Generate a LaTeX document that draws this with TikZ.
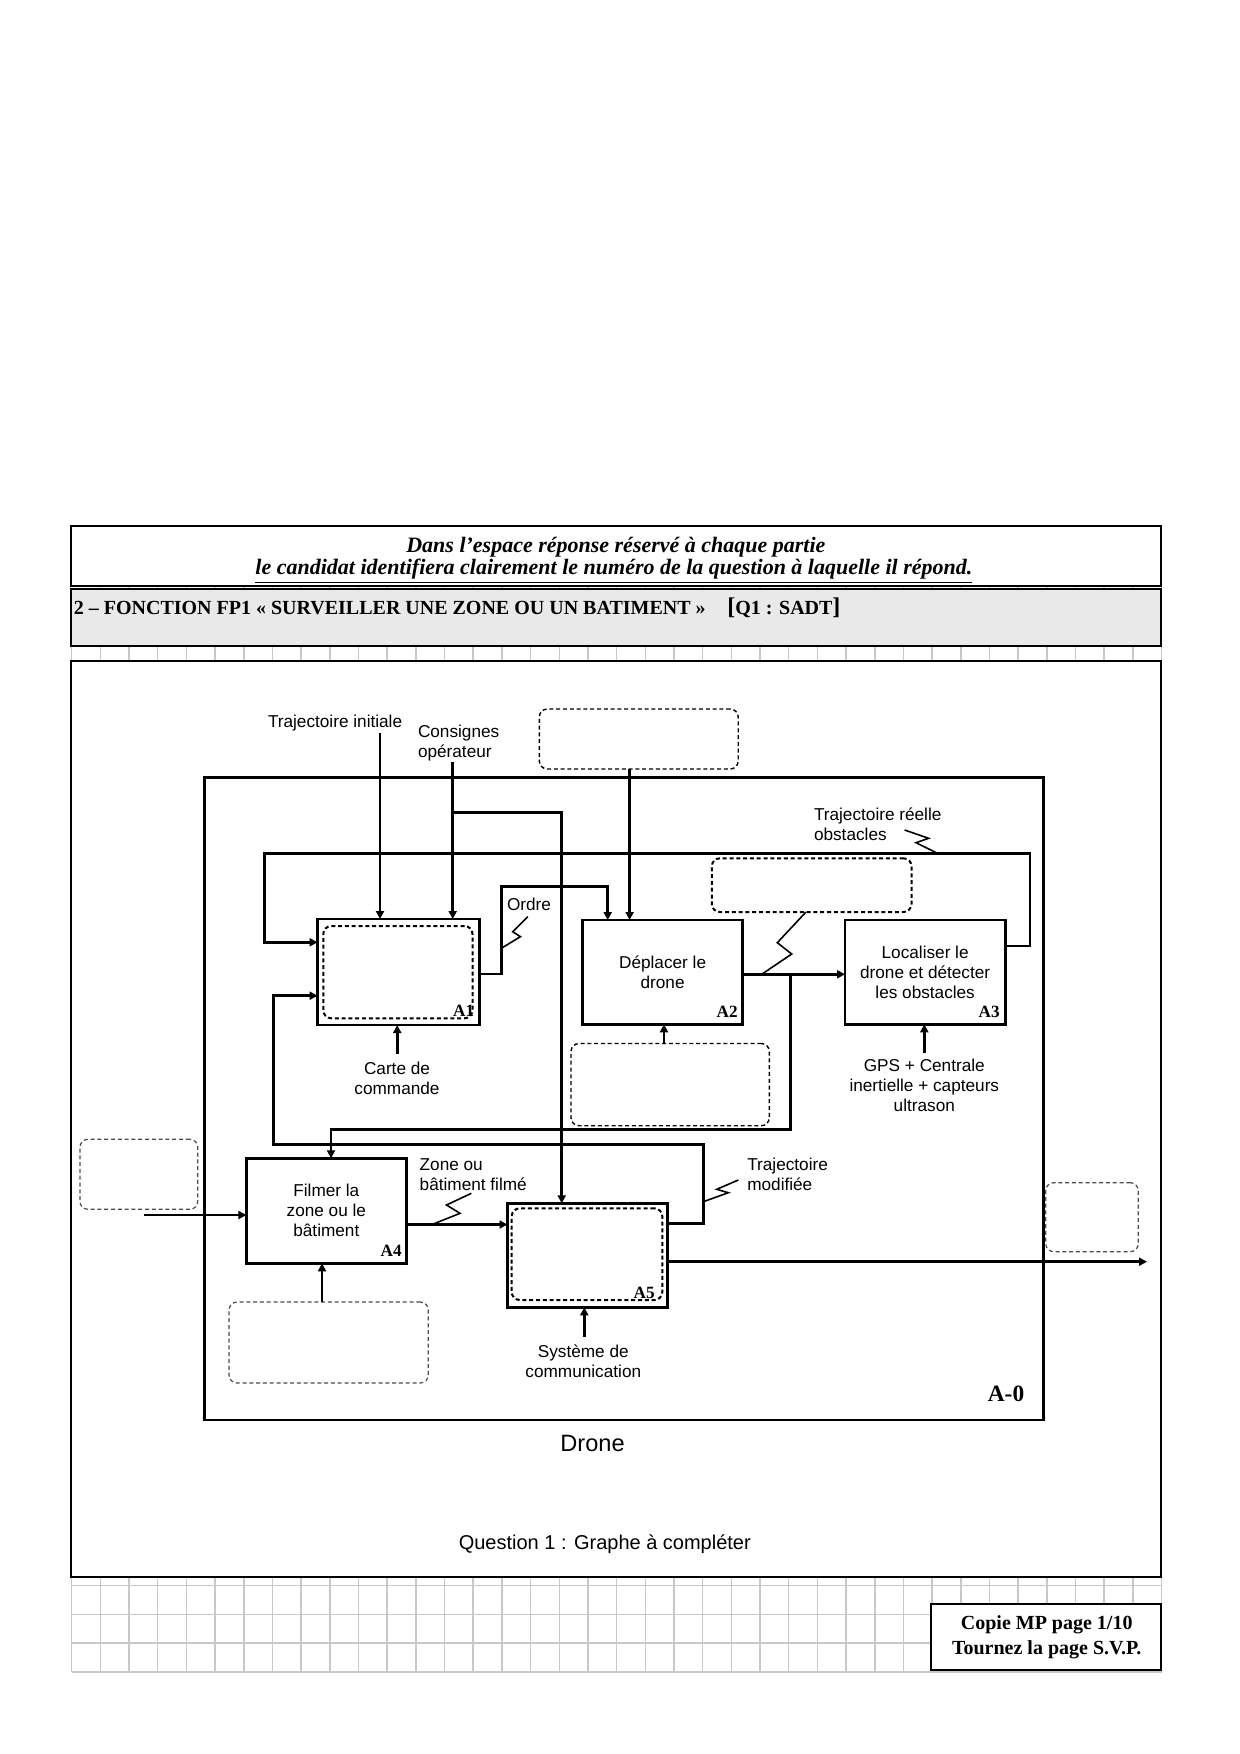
\documentclass[tikz,border=0pt]{standalone}
\usepackage{fontspec}
\setmainfont{Liberation Serif}
\setsansfont{Liberation Sans}
\usetikzlibrary{arrows.meta,calc}
\definecolor{barfill}{RGB}{233,233,233}
\definecolor{gridcol}{RGB}{200,200,200}
\tikzset{
  gridl/.style={draw=gridcol, line width=0.75pt},
  pframe/.style={draw, line width=1pt, fill=white, inner sep=0pt, outer sep=0pt},
  wire/.style={line width=1.4pt},
  arr/.style={line width=1.4pt, -{Triangle[length=4pt,width=4pt]}},
  zig/.style={line width=0.8pt},
  abox/.style={draw, line width=1.4pt, fill=white, inner sep=0pt, outer sep=0pt, align=center,
    font=\sffamily\fontsize{8.6}{10}\selectfont},
  dbox/.style={draw, line width=0.7pt, dash pattern=on 2pt off 1.4pt, rounded corners=4pt,
    inner sep=0pt, outer sep=0pt},
  dboxl/.style={dbox, draw=black!70, line width=0.6pt},
  dboxb/.style={dbox, line width=1pt},
  lbl/.style={font=\sffamily\fontsize{8.6}{10}\selectfont, inner sep=0pt, outer sep=0pt},
  alab/.style={font=\bfseries\fontsize{8.6}{10}\selectfont, inner sep=0pt},
  hdrtxt/.style={font=\bfseries\itshape\fontsize{11}{13}\selectfont, inner sep=0pt},
  bartxt/.style={font=\bfseries\fontsize{10}{12}\selectfont, inner sep=0pt},
}
\begin{document}
\begin{tikzpicture}[x=0.5pt,y=-0.5pt]
\useasboundingbox (0,0) rectangle (1240,1754);
% squared paper
\foreach \k in {0,...,38} \draw[gridl] ({71.7+28.68*\k},526) -- ({71.7+28.68*\k},1671.7);
\foreach \j in {0,...,3} \draw[gridl] (71.7,{1585.7+28.68*\j}) -- (1161.7,{1585.7+28.68*\j});
% page frames
\node[pframe, minimum width=545pt, minimum height=30pt] (hdr) at (616,556) {};
\node[pframe, fill=barfill, minimum width=545pt, minimum height=28.5pt] (bar) at (616,617.5) {};
\node[pframe, minimum width=545pt, minimum height=458pt] (qf) at (616,1118.7) {};
\node[pframe, minimum width=115.15pt, minimum height=33pt] (cp) at (1045.85,1637) {};
\node[hdrtxt, anchor=base] (h1) at (615.9,552) {Dans l’espace réponse réservé à chaque partie};
\node[hdrtxt, anchor=base] (h2) at (613.9,574.5) {\underline{le candidat identifiera clairement le numéro de la question à laquelle il répond.}};
\node[bartxt, anchor=base west] (bt) at (73.5,614) {2 – FONCTION FP1 « SURVEILLER UNE ZONE OU UN BATIMENT » \hspace*{8.3pt}{\fontsize{12}{12}\selectfont[}Q1 : SADT{\fontsize{12}{12}\selectfont]}};
\node[bartxt, anchor=base] (c1) at (1046.7,1629) {Copie MP page 1/10};
\node[bartxt, anchor=base] (c2) at (1046.7,1654.3) {Tournez la page S.V.P.};
% A-0 frame
\node[draw, line width=1.4pt, inner sep=0pt, outer sep=0pt, minimum width=419.3pt, minimum height=321.35pt] (A0) at (624,1098.65) {};
\node[font=\bfseries\fontsize{11.7}{13}\selectfont, inner sep=0pt] (a0l) at (1006,1394) {A-0};
% activity boxes
\node[abox, minimum width=81.1pt, minimum height=53pt] (A1) at (398.7,972) {};
\node[abox, minimum width=80.1pt, minimum height=52.15pt] (A2) at (662.6,972.15) {Déplacer le\\drone};
\node[abox, minimum width=80.15pt, minimum height=52.15pt] (A3) at (925.15,972.15) {Localiser le\\drone et détecter\\les obstacles};
\node[abox, minimum width=79.95pt, minimum height=52.5pt] (A4) at (326.35,1210.8) {Filmer la\\zone ou le\\bâtiment};
\node[abox, minimum width=79.9pt, minimum height=52pt] (A5) at (587.4,1255.3) {};
\node[alab] (l1) at (463.7,1011) {A1};
\node[alab] (l2) at (727.2,1011.3) {A2};
\node[alab] (l3) at (989.2,1012) {A3};
\node[alab] (l4) at (391.2,1251.3) {A4};
\node[alab] (l5) at (644.2,1292.5) {A5};
% dashed answer boxes
\node[dboxb, minimum width=74.6pt, minimum height=46.15pt] (I1) at (397.9,972.15) {};
\node[dboxb, minimum width=75.3pt, minimum height=45.85pt] (I5) at (587,1254.15) {};
\node[dbox, minimum width=99.45pt, minimum height=30pt] (D1) at (638.75,739) {};
\node[dboxb, minimum width=99.85pt, minimum height=26.85pt] (D2) at (811.65,885.15) {};
\node[dbox, minimum width=99.15pt, minimum height=41.1pt] (D3) at (670.15,1084.6) {};
\node[dboxl, minimum width=58.95pt, minimum height=35pt] (D4) at (138.85,1174.3) {};
\node[dboxl, minimum width=99.65pt, minimum height=40.5pt] (D5) at (328.65,1342.5) {};
\node[dboxl, minimum width=46.3pt, minimum height=34.5pt] (D6) at (1092,1217.2) {};
% labels
\node[lbl, anchor=west] (ti) at (268,723) {Trajectoire initiale};
\node[lbl, anchor=west, align=left] (co) at (418,743) {Consignes\\opérateur};
\node[lbl, anchor=west] (or) at (507,904) {Ordre};
\node[lbl, anchor=west, align=left] (tr) at (814,824) {Trajectoire réelle\\obstacles};
\node[lbl, align=center] (cc) at (397,1078.3) {Carte de\\commande};
\node[lbl, align=center] (gps) at (924.3,1085) {GPS + Centrale\\inertielle + capteurs\\ultrason};
\node[lbl, anchor=west, align=left] (zb) at (419.7,1174.3) {Zone ou\\bâtiment filmé};
\node[lbl, anchor=west, align=left] (tm) at (747.3,1174.3) {Trajectoire\\modifiée};
\node[lbl, align=center] (sc) at (583.3,1361.3) {Système de\\communication};
\node[font=\sffamily\fontsize{11.8}{14}\selectfont, inner sep=0pt] (dr) at (592.5,1443) {Drone};
\node[font=\sffamily\fontsize{10}{12}\selectfont, inner sep=0pt] (q1) at (604.8,1543.7) {Question 1 : Graphe à compléter};
% free ends and bend helpers
\coordinate (tiS) at (380,733);
\coordinate (coS) at (452.7,761.7);
\coordinate (coB) at (452.7,812.7);
\coordinate (xA5) at (561.7,812.7);
\coordinate (xD1) at (629.6,0);
\coordinate (yOr) at (0,974);
\coordinate (xOr) at (607.7,886.7);
\coordinate (y23) at (0,974.3);
\coordinate (b23) at (790.7,974.3);
\coordinate (xA4) at (331,1129.3);
\coordinate (y3o) at (0,946);
\coordinate (y1a) at (0,942.3);
\coordinate (y5o) at (0,1223.3);
\coordinate (y1b) at (0,995.7);
\coordinate (inA4) at (144.2,1215);
\coordinate (xD5) at (322,0);
\coordinate (y45) at (0,1224.5);
\coordinate (ccN) at (397.2,1054);
\coordinate (xD3) at (664,0);
\coordinate (gpsN) at (924.3,1053.3);
\coordinate (scN) at (584.3,1336.7);
\coordinate (outA5) at (1147,1261.7);
\coordinate (xD2) at (806,0);
% connectors
\draw[arr] (tiS) -- (tiS |- A1.north);
\draw[arr] (coS) -- (coS |- A1.north);
\draw[arr] (coB) -- (xA5) -- (xA5 |- A5.north);
\draw[arr] (xD1 |- D1.south) -- (xD1 |- A2.north);
\draw[arr] (A1.east |- yOr) -- (501.3,974) -- (501.3,886.7) -- (xOr) -- (xOr |- A2.north);
\draw[arr] (A2.east |- y23) -- (A3.west |- y23);
\draw[arr] (b23) -- (790.7,1129.3) -- (xA4) -- (xA4 |- A4.north);
\draw[arr] (A3.east |- y3o) -- (1030,946) -- (1030,853.3) -- (264.3,853.3) -- (264.3,942.3) -- (A1.west |- y1a);
\draw[arr] (A5.east |- y5o) -- (703.3,1223.3) -- (703.3,1144.3) -- (273.2,1144.3) -- (273.2,995.7) -- (A1.west |- y1b);
\draw[arr] (inA4) -- (A4.west |- inA4);
\draw[arr] (xD5 |- D5.north) -- (xD5 |- A4.south);
\draw[arr] (A4.east |- y45) -- (A5.west |- y45);
\draw[arr] (ccN) -- (ccN |- A1.south);
\draw[arr] (xD3 |- D3.north) -- (xD3 |- A2.south);
\draw[arr] (gpsN) -- (gpsN |- A3.south);
\draw[arr] (scN) -- (scN |- A5.south);
\draw[arr] (A5.east |- outA5) -- (outA5);
% label zigzags
\draw[zig] (527.7,916.7) -- (512.7,931.7) -- (520.4,936.7) -- (501.3,948.3);
\draw[zig] (904.6,830) -- (928.6,838.3) -- (916,842.7) -- (937.5,853.3);
\draw[zig] (xD2 |- D2.south) -- (777.3,942.7) -- (791.7,954) -- (761.7,974.3);
\draw[zig] (471.4,1193.3) -- (446.5,1205) -- (460,1213.3) -- (432,1224.5);
\draw[zig] (738.3,1180) -- (716.7,1189.3) -- (728.3,1192.7) -- (703.3,1201.7);
\end{tikzpicture}
\end{document}
